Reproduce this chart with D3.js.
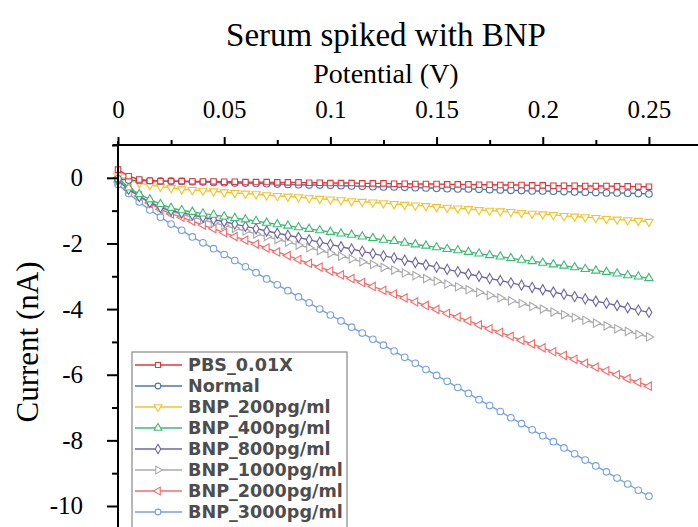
<!DOCTYPE html>
<html>
<head>
<meta charset="utf-8">
<script src="https://cdn.jsdelivr.net/npm/d3@7"></script>
<style>
  body { margin: 0; background: #fff; }
  svg { display: block; }
</style>
</head>
<body>
<svg width="698" height="527"></svg>
<script>
// potential sweep (V)
const potential = [0, 0.005, 0.01, 0.015, 0.02, 0.025, 0.03, 0.035, 0.04, 0.045,
  0.05, 0.055, 0.06, 0.065, 0.07, 0.075, 0.08, 0.085, 0.09, 0.095,
  0.1, 0.105, 0.11, 0.115, 0.12, 0.125, 0.13, 0.135, 0.14, 0.145,
  0.15, 0.155, 0.16, 0.165, 0.17, 0.175, 0.18, 0.185, 0.19, 0.195,
  0.2, 0.205, 0.21, 0.215, 0.22, 0.225, 0.23, 0.235, 0.24, 0.245, 0.25]

const seriesNames = ["PBS_0.01X", "Normal", "BNP_200pg/ml", "BNP_400pg/ml",
  "BNP_800pg/ml", "BNP_1000pg/ml", "BNP_2000pg/ml", "BNP_3000pg/ml"]

// current (nA)
const pbs = [0.25, 0.05, -0.05, -0.09, -0.10, -0.10, -0.10, -0.11, -0.11, -0.11,
  -0.12, -0.12, -0.13, -0.13, -0.13, -0.14, -0.14, -0.14, -0.15, -0.15,
  -0.16, -0.16, -0.16, -0.17, -0.17, -0.17, -0.18, -0.18, -0.19, -0.19,
  -0.19, -0.20, -0.20, -0.20, -0.21, -0.21, -0.22, -0.22, -0.22, -0.23,
  -0.23, -0.24, -0.24, -0.24, -0.25, -0.25, -0.25, -0.26, -0.26, -0.27, -0.27]
const normal = [-0.03, -0.07, -0.08, -0.09, -0.10, -0.10, -0.11, -0.12, -0.13, -0.14,
  -0.15, -0.16, -0.16, -0.17, -0.18, -0.19, -0.20, -0.21, -0.22, -0.22,
  -0.23, -0.24, -0.25, -0.26, -0.27, -0.28, -0.28, -0.29, -0.30, -0.31,
  -0.32, -0.33, -0.34, -0.34, -0.35, -0.36, -0.37, -0.38, -0.39, -0.40,
  -0.40, -0.41, -0.42, -0.43, -0.44, -0.45, -0.46, -0.46, -0.47, -0.48, -0.49]
const bnp200 = [0.05, -0.08, -0.16, -0.22, -0.27, -0.31, -0.35, -0.37, -0.39, -0.41,
  -0.44, -0.46, -0.48, -0.50, -0.53, -0.55, -0.57, -0.59, -0.62, -0.64,
  -0.66, -0.68, -0.71, -0.73, -0.75, -0.77, -0.80, -0.82, -0.84, -0.86,
  -0.89, -0.91, -0.93, -0.95, -0.98, -1.00, -1.02, -1.04, -1.07, -1.09,
  -1.11, -1.13, -1.16, -1.18, -1.20, -1.22, -1.25, -1.27, -1.29, -1.31, -1.34]
const bnp400 = [-0.05, -0.30, -0.50, -0.66, -0.80, -0.92, -0.99, -1.04, -1.09, -1.13,
  -1.18, -1.23, -1.27, -1.32, -1.37, -1.42, -1.46, -1.51, -1.56, -1.60,
  -1.65, -1.70, -1.74, -1.79, -1.84, -1.89, -1.93, -1.98, -2.03, -2.07,
  -2.12, -2.17, -2.21, -2.26, -2.31, -2.36, -2.40, -2.45, -2.50, -2.54,
  -2.59, -2.64, -2.68, -2.73, -2.78, -2.83, -2.87, -2.92, -2.97, -3.01, -3.06]
const bnp800 = [-0.08, -0.35, -0.57, -0.75, -0.90, -1.00, -1.07, -1.13, -1.20, -1.27,
  -1.34, -1.41, -1.48, -1.55, -1.62, -1.69, -1.75, -1.82, -1.89, -1.96,
  -2.03, -2.10, -2.17, -2.24, -2.31, -2.38, -2.44, -2.51, -2.58, -2.65,
  -2.72, -2.79, -2.86, -2.93, -3.00, -3.07, -3.13, -3.20, -3.27, -3.34,
  -3.41, -3.48, -3.55, -3.62, -3.69, -3.76, -3.82, -3.89, -3.96, -4.03, -4.10]
const bnp1000 = [-0.10, -0.35, -0.56, -0.74, -0.90, -1.03, -1.11, -1.20, -1.28, -1.37,
  -1.45, -1.54, -1.62, -1.71, -1.79, -1.88, -1.96, -2.05, -2.13, -2.22,
  -2.30, -2.39, -2.47, -2.56, -2.64, -2.73, -2.81, -2.90, -2.98, -3.07,
  -3.15, -3.24, -3.32, -3.41, -3.49, -3.58, -3.66, -3.75, -3.83, -3.92,
  -4.00, -4.09, -4.17, -4.26, -4.34, -4.43, -4.51, -4.60, -4.68, -4.77, -4.85]
const bnp2000 = [0.00, -0.30, -0.55, -0.77, -0.96, -1.10, -1.20, -1.32, -1.44, -1.55,
  -1.67, -1.79, -1.90, -2.02, -2.14, -2.26, -2.37, -2.49, -2.61, -2.72,
  -2.84, -2.96, -3.07, -3.19, -3.31, -3.43, -3.54, -3.66, -3.78, -3.89,
  -4.01, -4.13, -4.24, -4.36, -4.48, -4.60, -4.71, -4.83, -4.95, -5.06,
  -5.18, -5.30, -5.41, -5.53, -5.65, -5.77, -5.88, -6.00, -6.12, -6.23, -6.35]
const bnp3000 = [-0.20, -0.48, -0.74, -0.98, -1.20, -1.41, -1.60, -1.80, -1.98, -2.16,
  -2.34, -2.52, -2.71, -2.89, -3.08, -3.26, -3.44, -3.63, -3.81, -4.00,
  -4.18, -4.36, -4.55, -4.73, -4.92, -5.10, -5.28, -5.47, -5.65, -5.84,
  -6.02, -6.20, -6.39, -6.57, -6.76, -6.94, -7.12, -7.31, -7.49, -7.68,
  -7.86, -8.04, -8.23, -8.41, -8.60, -8.78, -8.96, -9.15, -9.33, -9.52, -9.70]

const xTicks = [0, 0.05, 0.1, 0.15, 0.2, 0.25]
const xTickLabels = ["0", "0.05", "0.1", "0.15", "0.2", "0.25"]
const yTicks = [0, -2, -4, -6, -8, -10]
const yTickLabels = ["0", "-2", "-4", "-6", "-8", "-10"]

const colors = ["#e4363a", "#4f77a8", "#f2c32c", "#3dbb74", "#6e66a6", "#aaaaaa", "#f46b6b", "#76a1dc"]
// marker shape + rotation per series
const markers = [
  [d3.symbolSquare, 0], [d3.symbolCircle, 0], [d3.symbolTriangle, 180], [d3.symbolTriangle, 0],
  [d3.symbolDiamond, 0], [d3.symbolTriangle, 90], [d3.symbolTriangle, -90], [d3.symbolCircle, 0]
]

const allSeries = [pbs, normal, bnp200, bnp400, bnp800, bnp1000, bnp2000, bnp3000]
const data = seriesNames.map(function(name, k) {
  return {
    name: name,
    color: colors[k],
    marker: markers[k],
    values: potential.map(function(p, i) { return { x: p, y: allSeries[k][i] } })
  }
})

const svg = d3.select("svg")
const serif = "'Liberation Serif', 'Times New Roman', serif"

let x = d3.scaleLinear().domain([0, 0.2731]).range([118, 698])
let y = d3.scaleLinear().domain([-10.64, 1.0]).range([527, 145])

// titles
svg.append("text")
  .attr("x", 386).attr("y", 46)
  .attr("text-anchor", "middle")
  .attr("font-family", serif).attr("font-size", 33)
  .text("Serum spiked with BNP")

svg.append("text")
  .attr("x", 386).attr("y", 83)
  .attr("text-anchor", "middle")
  .attr("font-family", serif).attr("font-size", 28)
  .text("Potential (V)")

svg.append("text")
  .attr("transform", "translate(38,342) rotate(-90)")
  .attr("text-anchor", "middle")
  .attr("font-family", serif).attr("font-size", 31)
  .text("Current (nA)")

// series: line then hollow markers
let line = d3.line()
  .x(function(d) { return x(d.x) })
  .y(function(d) { return y(d.y) })

let plot = svg.append("g")
data.slice().reverse().forEach(function(s) {
  plot.append("path")
    .datum(s.values)
    .attr("fill", "none")
    .attr("stroke", s.color)
    .attr("stroke-width", 1.4)
    .attr("d", line)

  let sym = d3.symbol().type(s.marker[0]).size(s.marker[0] === d3.symbolCircle ? 34 : 30)
  plot.append("g").selectAll("path")
    .data(s.values)
    .join("path")
    .attr("d", sym)
    .attr("transform", function(d) { return "translate(" + x(d.x) + "," + y(d.y) + ") rotate(" + s.marker[1] + ")" })
    .attr("fill", "#fff")
    .attr("stroke", s.color)
    .attr("stroke-width", 1.1)
})

// top x axis: major + minor ticks pointing outwards
let xMinor = svg.append("g")
  .attr("transform", "translate(0,145)")
  .call(d3.axisTop(x).tickValues([0.025, 0.075, 0.125, 0.175, 0.225]).tickSize(5).tickFormat(""))
xMinor.select(".domain").remove()

let xAxis = svg.append("g")
  .attr("transform", "translate(0,145)")
  .call(d3.axisTop(x).tickValues(xTicks).tickSize(8).tickSizeOuter(0).tickPadding(19)
    .tickFormat(function(d, i) { return xTickLabels[i] }))
xAxis.selectAll("text").attr("font-family", serif).attr("font-size", 25).attr("fill", "#000")
xAxis.select(".domain").attr("d", "M113,0H698")

// left y axis
let yMinor = svg.append("g")
  .attr("transform", "translate(118,0)")
  .call(d3.axisLeft(y).tickValues([1, -1, -3, -5, -7, -9]).tickSize(6).tickFormat(""))
yMinor.select(".domain").remove()

let yAxis = svg.append("g")
  .attr("transform", "translate(118,0)")
  .call(d3.axisLeft(y).tickValues(yTicks).tickSize(11).tickSizeOuter(0).tickPadding(24)
    .tickFormat(function(d, i) { return yTickLabels[i] }))
yAxis.selectAll("text").attr("font-family", serif).attr("font-size", 25).attr("fill", "#000")
yAxis.select(".domain").attr("d", "M0,141V527")

svg.selectAll(".domain, .tick line").attr("stroke", "#000").attr("stroke-width", 2)

// legend
let legend = svg.append("g").attr("transform", "translate(132,352)")
legend.append("rect")
  .attr("width", 215).attr("height", 190)
  .attr("fill", "#fff").attr("stroke", "#888").attr("stroke-width", 1.2)

data.forEach(function(s, k) {
  let row = legend.append("g").attr("transform", "translate(0," + (13 + k * 21) + ")")
  row.append("line")
    .attr("x1", 3).attr("x2", 50)
    .attr("stroke", s.color).attr("stroke-width", 1.6)
  row.append("path")
    .attr("d", d3.symbol().type(s.marker[0]).size(26))
    .attr("transform", "translate(26,0) rotate(" + s.marker[1] + ")")
    .attr("fill", "#fff").attr("stroke", s.color).attr("stroke-width", 1.1)
  row.append("text")
    .attr("x", 56).attr("dy", "0.36em")
    .attr("font-family", "'DejaVu Sans', sans-serif").attr("font-weight", "bold")
    .attr("font-size", 17.6).attr("fill", "#4d4d4d")
    .text(s.name)
})
</script>
</body>
</html>
